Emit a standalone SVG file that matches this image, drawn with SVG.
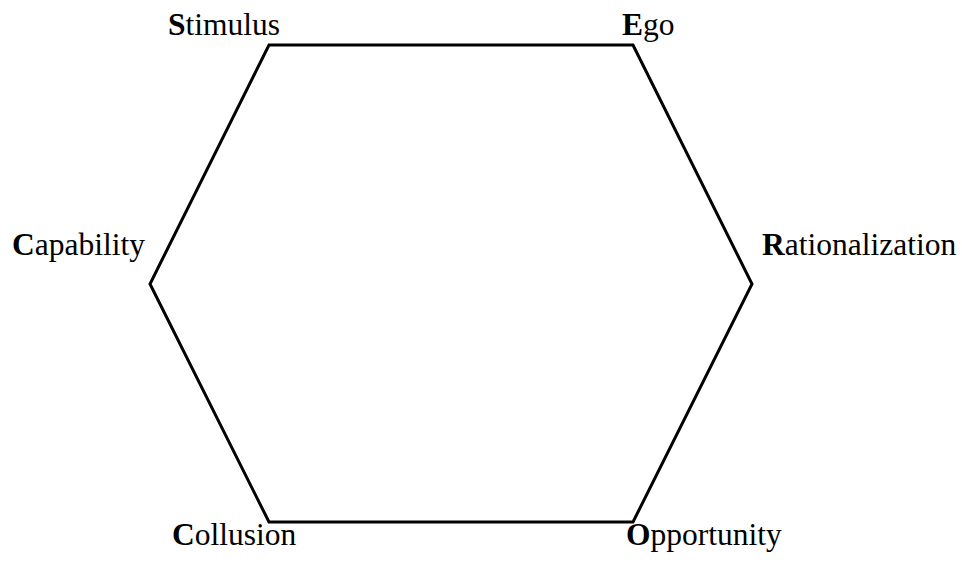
<svg xmlns="http://www.w3.org/2000/svg" width="962" height="563" viewBox="0 0 962 563">
<style>
.lbl{font-family:"Liberation Serif","Times New Roman",serif;font-size:31.5px;fill:#000}
.b{font-weight:bold}
.hex{fill:none;stroke:#000;stroke-width:3;stroke-linejoin:miter}
</style>
<rect width="962" height="563" fill="#fff"/>
<g id="connectors">
<polygon class="hex" points="269,45 633,45 752,284 633,522 269,522 150,284"/>
</g>
<g id="stimulus"><text class="lbl" x="168" y="35"><tspan class="b">S</tspan>timulus</text></g>
<g id="ego"><text class="lbl" x="622" y="35"><tspan class="b">E</tspan>go</text></g>
<g id="capability"><text class="lbl" x="12" y="255"><tspan class="b">C</tspan>apability</text></g>
<g id="rationalization"><text class="lbl" x="762" y="255"><tspan class="b">R</tspan>ationalization</text></g>
<g id="collusion"><text class="lbl" x="172" y="545"><tspan class="b">C</tspan>ollusion</text></g>
<g id="opportunity"><text class="lbl" x="626" y="545"><tspan class="b">O</tspan>pportunity</text></g>
</svg>
